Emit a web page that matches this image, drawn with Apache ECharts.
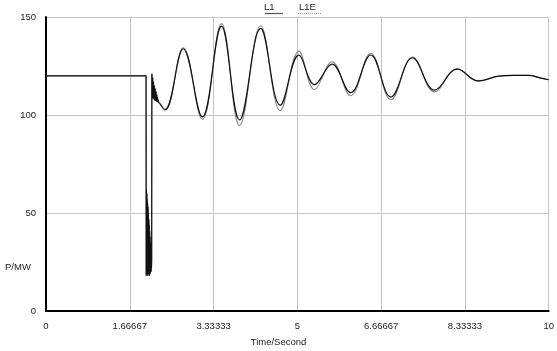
<!DOCTYPE html>
<html>
<head>
<meta charset="utf-8">
<script src="https://cdn.jsdelivr.net/npm/echarts@6/dist/echarts.min.js"></script>
<style>html,body{margin:0;padding:0;background:#fff}#c{width:557px;height:351px}</style>
</head>
<body>
<div id="c"></div>
<script>
// x tick labels (seconds)
const xTickLabels = ['0','1.66667','3.33333','5','6.66667','8.33333','10'];
const yTickLabels = ['0','50','100','150'];

// fault / switching section (unsmoothed): time in s, P in MW
const tStep = [0, 1.990, 1.994, 1.998, 2.002, 2.006, 2.010, 2.014, 2.018, 2.022, 2.026, 2.030, 2.034, 2.038, 2.042, 2.046, 2.050, 2.054, 2.058, 2.062, 2.066, 2.070, 2.074, 2.078, 2.082, 2.086, 2.090, 2.094, 2.098, 2.102,
  2.106, 2.114, 2.122, 2.130, 2.138, 2.146, 2.154, 2.162, 2.170, 2.178, 2.186, 2.194, 2.202, 2.210, 2.218, 2.226, 2.234, 2.242, 2.250, 2.260];
const l1Step = [120, 120, 18, 62, 20, 60, 19, 57, 21, 55, 18, 53, 22, 50, 19, 47, 20, 44, 18, 41, 21, 38, 19, 35, 22, 32, 20, 29, 22, 26,
  121, 109, 119, 108.5, 117, 108, 115, 107.5, 113.5, 107.2, 112, 107, 110.5, 106.8, 109, 106.5, 107.8, 106.3, 106.8, 106];
const l1eStep = [120, 120, 18, 61, 20, 59, 19, 56, 21, 54, 18, 52, 22, 49, 19, 46, 20, 43, 18, 40, 21, 37, 19, 34, 22, 31, 20, 28, 22, 25,
  121, 109, 119, 108.5, 117, 108, 115, 107.5, 113.5, 107.2, 112, 107, 110.5, 106.8, 109, 106.5, 107.8, 106.3, 106.8, 106];

// electromechanical oscillation section (smoothed)
const tWave = [2.26, 2.37, 2.73, 3.11, 3.49, 3.85, 4.27, 4.66, 5.03, 5.34, 5.69, 6.06, 6.46, 6.86, 7.29, 7.73, 8.18, 8.60, 9.00, 9.30, 9.60, 9.85, 10.0];
const l1Wave  = [106, 102.8, 133.8, 99.0, 145.3, 97.5, 144.2, 105.0, 130.5, 115.5, 126.0, 111.4, 130.6, 109.2, 129.2, 112.7, 123.4, 117.4, 119.8, 120.2, 120.2, 118.8, 118.0];
const l1eWave = [106, 102.3, 134.3, 97.8, 146.6, 94.5, 145.5, 102.2, 132.6, 112.9, 127.2, 109.8, 131.5, 107.8, 129.6, 111.8, 123.6, 117.3, 119.8, 120.2, 120.2, 118.8, 118.0];

const zip = (t, v) => t.map((x, i) => [x, v[i]]);
const L1C = '#111111', L1EC = '#8a8a8a';

const chart = echarts.init(document.getElementById('c'), null, {renderer: 'canvas'});
const font = 'Liberation Sans, Arial, sans-serif';
chart.setOption({
  animation: false,
  backgroundColor: '#ffffff',
  grid: {left: 46, right: 5, top: 17, bottom: 40, containLabel: false},
  xAxis: {
    type: 'value', min: 0, max: 10, interval: 10 / 6,
    axisLine: {show: true, onZero: false, lineStyle: {color: '#000', width: 2}},
    axisTick: {show: false},
    splitLine: {show: true, lineStyle: {color: '#c4c4c4', width: 1}},
    axisLabel: {
      color: '#222', fontSize: 9.5, fontFamily: font, margin: 10,
      formatter: v => xTickLabels[Math.round(v / (10 / 6))]
    }
  },
  yAxis: {
    type: 'value', min: 0, max: 150, interval: 50,
    axisLine: {show: true, lineStyle: {color: '#000', width: 2}},
    axisTick: {show: false},
    splitLine: {show: true, lineStyle: {color: '#c4c4c4', width: 1}},
    axisLabel: {
      color: '#222', fontSize: 9.5, fontFamily: font, margin: 10,
      formatter: v => yTickLabels[Math.round(v / 50)]
    }
  },
  graphic: [
    {type: 'text', left: 5, top: 262, style: {text: 'P/MW', fill: '#222', font: '9.5px ' + font}},
    {type: 'text', left: 'center', top: 337, style: {text: 'Time/Second', fill: '#222', font: '9.5px ' + font}, x: 25},
    {type: 'text', left: 264, top: 2, style: {text: 'L1', fill: '#222', font: '9.5px ' + font}},
    {type: 'line', shape: {x1: 265, y1: 13.5, x2: 283, y2: 13.5}, style: {stroke: '#555', lineWidth: 1.2}},
    {type: 'text', left: 299, top: 2, style: {text: 'L1E', fill: '#222', font: '9.5px ' + font}},
    {type: 'line', shape: {x1: 298, y1: 13.5, x2: 321, y2: 13.5}, style: {stroke: '#999', lineWidth: 1, lineDash: [1, 1]}}
  ],
  series: [
    {name: 'L1E', type: 'line', data: zip(tStep, l1eStep), showSymbol: false, smooth: false,
     lineStyle: {color: L1EC, width: 1}, itemStyle: {color: L1EC}, z: 2},
    {name: 'L1E', type: 'line', data: zip(tWave, l1eWave), showSymbol: false, smooth: 0.4,
     lineStyle: {color: L1EC, width: 1.1}, itemStyle: {color: L1EC}, z: 2},
    {name: 'L1', type: 'line', data: zip(tStep, l1Step), showSymbol: false, smooth: false,
     lineStyle: {color: L1C, width: 1.2}, itemStyle: {color: L1C}, z: 3},
    {name: 'L1', type: 'line', data: zip(tWave, l1Wave), showSymbol: false, smooth: 0.4,
     lineStyle: {color: L1C, width: 1.2}, itemStyle: {color: L1C}, z: 3}
  ]
});
</script>
</body>
</html>
